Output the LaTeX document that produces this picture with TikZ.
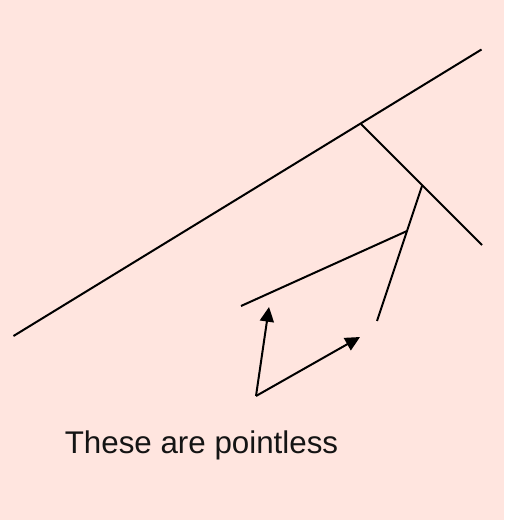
\documentclass[tikz,border=0pt]{standalone}
\usepackage{fontspec}
\setmainfont{Liberation Sans}
\usetikzlibrary{arrows.meta}
\definecolor{bgpink}{RGB}{255,229,223}
\tikzset{
  ln/.style={line width=1.5pt, black},
  arr/.style={ln, -{Triangle[length=11pt,width=10.5pt]}},
  lbl/.style={font=\fontsize{23.5pt}{28pt}\selectfont, text=black!92, inner sep=0pt, anchor=base}
}
\begin{document}
\begin{tikzpicture}[x=0.75pt,y=-0.75pt]
\fill[bgpink] (0,0) rectangle (504,520);
\useasboundingbox (0,0) rectangle (504,520);
\coordinate (A) at (13.5,336);
\coordinate (B) at (481.5,49.5);
\coordinate (P1) at (361,124);
\coordinate (P2) at (482,245);
\coordinate (Q1) at (422,186);
\coordinate (Q2) at (377,321);
\coordinate (R1) at (407,231);
\coordinate (R2) at (241,306);
\coordinate (O) at (256,396);
\coordinate (T1) at (269,307);
\coordinate (T2) at (360,337);
\draw[ln] (A) -- (B);
\draw[ln] (P1) -- (P2);
\draw[ln] (Q1) -- (Q2);
\draw[ln] (R1) -- (R2);
\draw[arr] (O) -- (T1);
\draw[arr] (O) -- (T2);
\node[lbl] (txt) at (201.5,453) {These are pointless};
\end{tikzpicture}
\end{document}
